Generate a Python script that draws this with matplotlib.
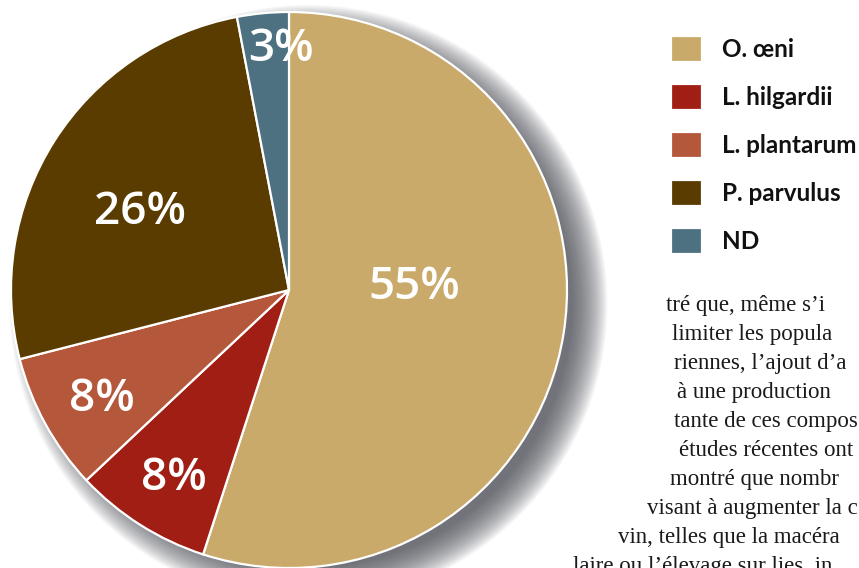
import matplotlib.pyplot as plt
from matplotlib.patches import Circle

# data
species = ['O. œni', 'L. hilgardii', 'L. plantarum', 'P. parvulus', 'ND']
shares = [55, 8, 8, 26, 3]
colors = ['#C9AA6A', '#A01E14', '#B5573A', '#5A3B00', '#4E7182']
pct_labels = ['55%', '8%', '8%', '26%', '3%']
# label positions in pie-radius units
label_pos = [(0.45, 0.02), (-0.414, -0.669), (-0.673, -0.385), (-0.536, 0.29), (-0.029, 0.875)]

# the part of the article text that shows in the picture
text_lines = ["tré que, même s’i",
              "limiter les popula",
              "riennes, l’ajout d’a",
              "à une production",
              "tante de ces compos",
              "études récentes ont",
              "montré que nombr",
              "visant à augmenter la c",
              "vin, telles que la macéra",
              "laire ou l’élevage sur lies, in"]
text_x = [666, 672, 674, 677, 674, 679, 670, 647, 618, 573]

W, H = 859, 568
R = 278.0
cx, cy = 289, 290

fig = plt.figure(figsize=(W / 100, H / 100), dpi=100)
ax = fig.add_axes([0, 0, 1, 1])

# soft drop shadow, lower right of the pie
n = 26
for i in range(n):
    r = 0.95 + 0.13 * i / n
    ax.add_patch(Circle((0.07, -0.05), r, color='#4a4d55', alpha=0.05, lw=0, zorder=0))

wedges, _ = ax.pie(shares, colors=colors, startangle=90, counterclock=False, radius=1,
                   wedgeprops=dict(edgecolor='white', linewidth=1.6))
for w in wedges:
    w.set_zorder(2)

ax.set_xlim(-cx / R, (W - cx) / R)
ax.set_ylim(-(H - cy) / R, cy / R)
ax.set_aspect('equal')
ax.axis('off')

for lab, (x, y) in zip(pct_labels, label_pos):
    ax.text(x, y - 0.01, lab, color='white', fontsize=33, family='Open Sans', weight='semibold',
            ha='center', va='center', zorder=3)

leg = fig.legend(wedges, species, loc='upper left', bbox_to_anchor=(671 / W, 1 - 36 / H),
                 frameon=False, borderpad=0, borderaxespad=0,
                 handlelength=1.28, handleheight=1.28, handletextpad=0.8, labelspacing=0.9,
                 prop=dict(family='Lato', weight='bold', size=17.5))
for t in leg.get_texts():
    t.set_color('#111111')

# article text wrapped around the pie, last line runs off the bottom as in the page
for i, (line, x) in enumerate(zip(text_lines, text_x)):
    fig.text(x / W, 1 - (311 + 29 * i) / H, line, family='Liberation Serif', fontsize=16.5,
             color='#1a1a1a', ha='left', va='baseline')

fig.savefig('out.png', dpi=100)
